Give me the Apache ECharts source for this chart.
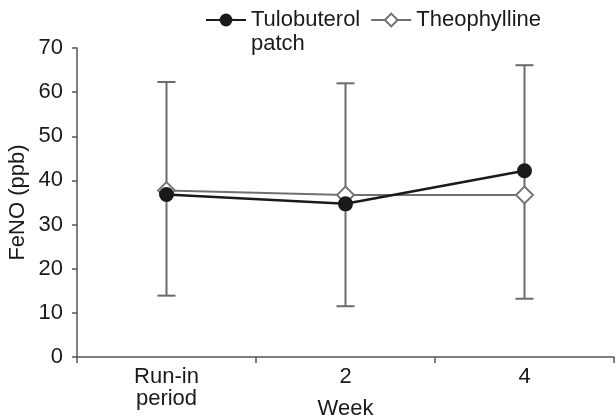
<!DOCTYPE html>
<html><head><meta charset="utf-8">
<script src="https://cdn.jsdelivr.net/npm/echarts@6/dist/echarts.min.js"></script>
<style>html,body{margin:0;padding:0;background:#fff}#c{width:616px;height:416px}</style>
</head><body><div id="c"></div>
<script>
var categories = ['Run-in\nperiod', '2', '4'];
var seriesNames = ['Tulobuterol patch', 'Theophylline'];
var tulobuterol = [36.8, 34.7, 42.2];
var theophylline = [37.7, 36.7, 36.7];
var errLow = [13.9, 11.5, 13.2];
var errHigh = [62.3, 62.0, 66.1];
var yTicks = [0, 10, 20, 30, 40, 50, 60, 70];

var errData = categories.map(function (c, i) { return [i, errLow[i], errHigh[i]]; });
var chart = echarts.init(document.getElementById('c'));
var font = 'Liberation Sans, Arial, sans-serif';
chart.setOption({
  animation: false,
  grid: { left: 77, right: 2, top: 48, bottom: 59, containLabel: false, outerBoundsMode: 'none' },
  legend: {
    left: 205, top: -16, padding: 0, itemGap: 10, itemWidth: 40, itemHeight: 16,
    data: seriesNames,
    formatter: function (name) {
      return name === seriesNames[0] ? ' \nTulobuterol\npatch' : name;
    },
    textStyle: { fontFamily: font, fontSize: 22, color: '#1a1a1a', lineHeight: 24 }
  },
  xAxis: {
    type: 'category', data: categories, boundaryGap: true,
    name: 'Week', nameLocation: 'middle', nameGap: 41, nameMoveOverlap: false,
    nameTextStyle: { fontFamily: font, fontSize: 22, color: '#1a1a1a' },
    axisLine: { lineStyle: { color: '#555', width: 1.5 } },
    axisTick: { show: true, length: 6, alignWithLabel: false, lineStyle: { color: '#555', width: 1.5 } },
    axisLabel: { fontFamily: font, fontSize: 22, color: '#1a1a1a', lineHeight: 22, margin: 9 },
    splitLine: { show: false }
  },
  yAxis: {
    type: 'value', min: yTicks[0], max: yTicks[yTicks.length - 1], interval: 10,
    name: 'FeNO (ppb)', nameLocation: 'middle', nameGap: 48, nameMoveOverlap: false,
    nameTextStyle: { fontFamily: font, fontSize: 22, color: '#1a1a1a' },
    axisLine: { show: true, lineStyle: { color: '#555', width: 1.5 } },
    axisTick: { show: true, length: 5, lineStyle: { color: '#555', width: 1.5 } },
    axisLabel: { fontFamily: font, fontSize: 22, color: '#1a1a1a', margin: 14 },
    splitLine: { show: false }
  },
  series: [
    {
      type: 'custom', name: 'err', data: errData, z: 1,
      renderItem: function (params, api) {
        var x = api.value(0);
        var lo = api.coord([x, api.value(1)]);
        var hi = api.coord([x, api.value(2)]);
        var w = 9;
        var st = { stroke: '#6a6a6a', lineWidth: 2 };
        return { type: 'group', children: [
          { type: 'line', shape: { x1: lo[0], y1: lo[1], x2: hi[0], y2: hi[1] }, style: st },
          { type: 'line', shape: { x1: lo[0] - w, y1: lo[1], x2: lo[0] + w, y2: lo[1] }, style: st },
          { type: 'line', shape: { x1: hi[0] - w, y1: hi[1], x2: hi[0] + w, y2: hi[1] }, style: st }
        ]};
      }
    },
    {
      type: 'line', name: seriesNames[1], data: theophylline, z: 3,
      symbol: 'diamond', symbolSize: 17,
      lineStyle: { color: '#707070', width: 2 },
      itemStyle: { color: '#fff', borderColor: '#707070', borderWidth: 1.8 }
    },
    {
      type: 'line', name: seriesNames[0], data: tulobuterol, z: 4,
      symbol: 'circle', symbolSize: 15,
      lineStyle: { color: '#1a1a1a', width: 2.5 },
      itemStyle: { color: '#1a1a1a', borderColor: '#1a1a1a', borderWidth: 0 }
    }
  ]
});
</script></body></html>
